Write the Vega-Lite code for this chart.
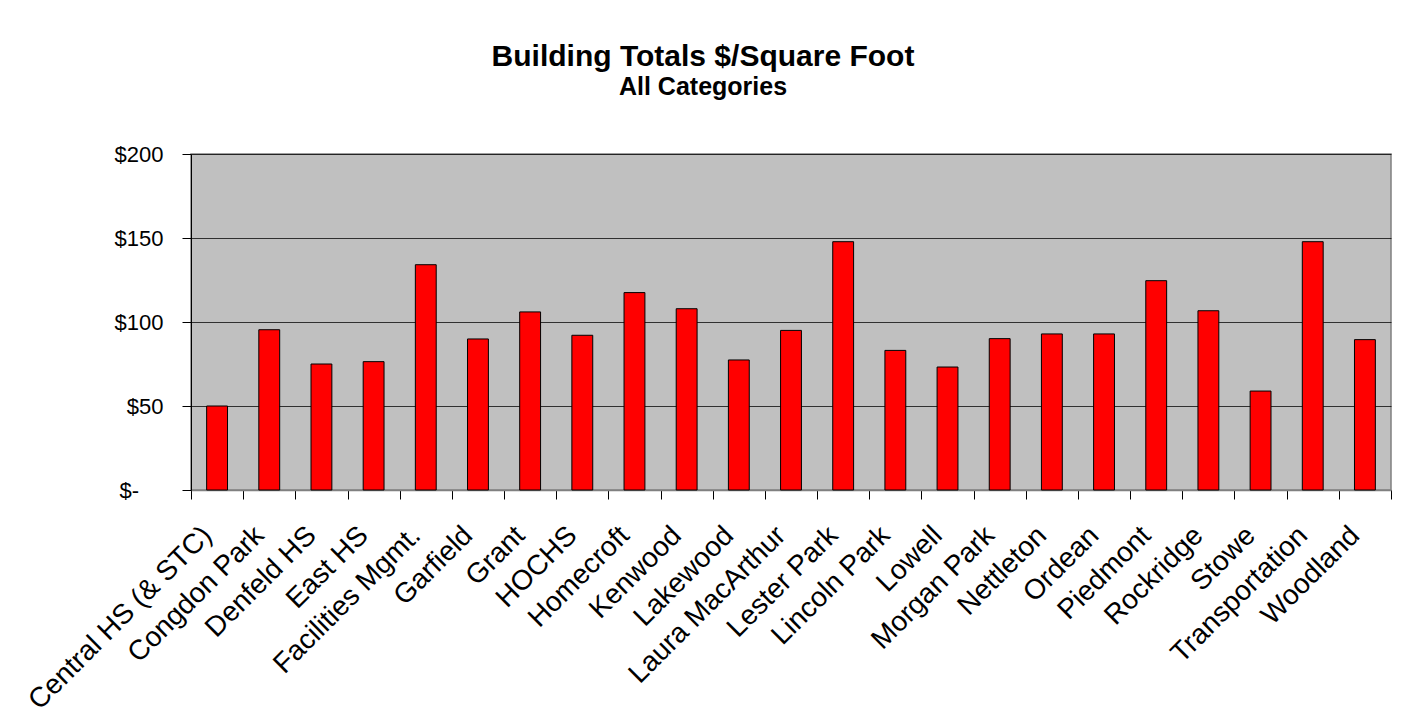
{
  "$schema": "https://vega.github.io/schema/vega-lite/v6.json",
  "autosize": "none",
  "width": 1200,
  "height": 336,
  "padding": {"left": 191, "top": 154, "right": 15, "bottom": 233},
  "background": "white",
  "title": {
    "text": "Building Totals $/Square Foot",
    "subtitle": "All Categories",
    "anchor": "middle",
    "dx": -88,
    "offset": 43,
    "font": "Liberation Sans",
    "fontSize": 30,
    "fontWeight": "bold",
    "color": "#000000",
    "subtitleFont": "Liberation Sans",
    "subtitleFontSize": 25,
    "subtitleFontWeight": "bold",
    "subtitleColor": "#000000",
    "subtitlePadding": 3
  },
  "data": {
    "values": [
      {"building": "Central HS (& STC)", "cost": 50},
      {"building": "Congdon Park", "cost": 95.4},
      {"building": "Denfeld HS", "cost": 75},
      {"building": "East HS", "cost": 76.4},
      {"building": "Facilities Mgmt.", "cost": 134.1},
      {"building": "Garfield", "cost": 89.9},
      {"building": "Grant", "cost": 106},
      {"building": "HOCHS", "cost": 92.1},
      {"building": "Homecroft", "cost": 117.5},
      {"building": "Kenwood", "cost": 107.9},
      {"building": "Lakewood", "cost": 77.4},
      {"building": "Laura MacArthur", "cost": 95},
      {"building": "Lester Park", "cost": 147.8},
      {"building": "Lincoln Park", "cost": 83.1},
      {"building": "Lowell", "cost": 73.2},
      {"building": "Morgan Park", "cost": 90.1},
      {"building": "Nettleton", "cost": 92.9},
      {"building": "Ordean", "cost": 92.9},
      {"building": "Piedmont", "cost": 124.6},
      {"building": "Rockridge", "cost": 106.7},
      {"building": "Stowe", "cost": 58.9},
      {"building": "Transportation", "cost": 147.8},
      {"building": "Woodland", "cost": 89.5}
    ]
  },
  "mark": {"type": "bar", "color": "#FF0000", "stroke": "#000000", "strokeWidth": 1, "width": {"band": 0.4}},
  "encoding": {
    "x": {
      "field": "building",
      "type": "nominal",
      "sort": null,
      "scale": {"paddingInner": 0, "paddingOuter": 0},
      "axis": {
        "title": null,
        "labelAngle": -45,
        "labelAlign": "right",
        "labelBaseline": "middle",
        "labelFont": "Liberation Sans",
        "labelFontSize": 28,
        "labelColor": "#000000",
        "labelPadding": 32,
        "labelOffset": -10,
        "labelOverlap": false,
        "labelLimit": 0,
        "tickBand": "extent",
        "tickSize": 9,
        "tickColor": "#000000",
        "domainColor": "#808080",
        "domainWidth": 1.5,
        "grid": false
      }
    },
    "y": {
      "field": "cost",
      "type": "quantitative",
      "scale": {"domain": [0, 200], "nice": false},
      "axis": {
        "title": null,
        "values": [0, 50, 100, 150, 200],
        "labelExpr": "datum.value == 0 ? '$-\u00a0\u00a0\u00a0\u00a0\u200b' : '$' + datum.value",
        "labelFont": "Liberation Sans",
        "labelFontSize": 22,
        "labelColor": "#000000",
        "labelPadding": 19,
        "tickSize": 9,
        "tickColor": "#000000",
        "domainColor": "#000000",
        "grid": true,
        "gridColor": "#000000",
        "gridOpacity": 0.75,
        "gridWidth": 1
      }
    }
  },
  "config": {
    "view": {"fill": "#C0C0C0", "stroke": "#808080", "strokeWidth": 1.5}
  }
}
